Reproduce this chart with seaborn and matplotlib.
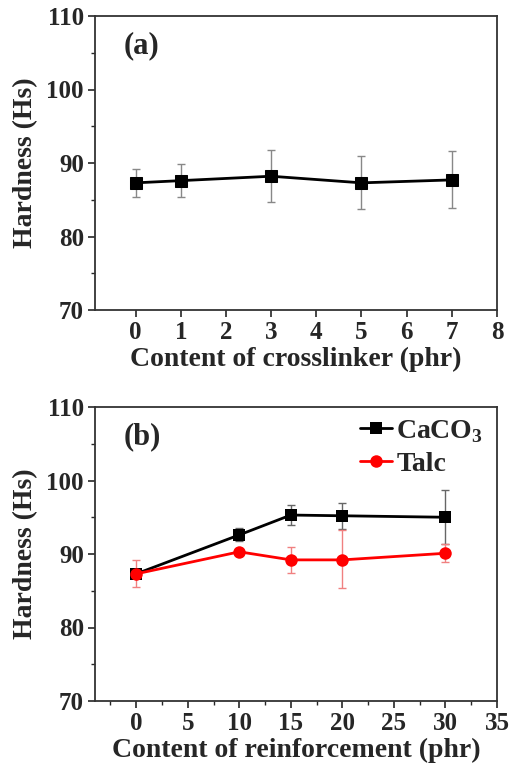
import numpy as np
import pandas as pd
import matplotlib
matplotlib.use("Agg")
import matplotlib.pyplot as plt
from matplotlib.ticker import MultipleLocator
import seaborn as sns

# Panel (a): crosslinker content
crosslinker = [0, 1, 3, 5, 7]
hard_a = [87.3, 87.6, 88.2, 87.3, 87.7]
err_a_low = [85.4, 85.4, 84.7, 83.8, 83.9]
err_a_high = [89.2, 89.8, 91.8, 90.9, 91.6]

# Panel (b): reinforcement content
reinforcement = [0, 10, 15, 20, 30]
hard_caco3 = [87.3, 92.6, 95.3, 95.2, 95.0]
caco3_low = [87.3, 91.8, 94.0, 93.4, 91.4]
caco3_high = [87.3, 93.6, 96.6, 97.0, 98.7]
hard_talc = [87.3, 90.3, 89.2, 89.2, 90.1]
talc_low = [85.5, 90.3, 87.4, 85.4, 88.9]
talc_high = [89.2, 90.3, 91.0, 93.3, 91.4]

sns.set_style("ticks")
plt.rcParams['font.family'] = ['Liberation Serif', 'DejaVu Serif']
plt.rcParams['font.weight'] = 'bold'
plt.rcParams['mathtext.fontset'] = 'custom'
plt.rcParams['mathtext.rm'] = 'Liberation Serif:bold'
plt.rcParams['mathtext.bf'] = 'Liberation Serif:bold'

fig = plt.figure(figsize=(5.11, 7.73), dpi=100)
ax1 = fig.add_axes([95 / 511, 1 - 310 / 773, 402 / 511, 294 / 773])
ax2 = fig.add_axes([95 / 511, 1 - 701 / 773, 402 / 511, 294 / 773])


def add_err(ax, x, y, lo, hi, color):
    y = np.array(y)
    yerr = [y - np.array(lo), np.array(hi) - y]
    ax.errorbar(x, y, yerr=yerr, fmt='none', ecolor=color, elinewidth=1.0,
                capsize=3, capthick=1.0, zorder=1)


# panel (a)
df_a = pd.DataFrame({'x': crosslinker, 'y': hard_a})
add_err(ax1, crosslinker, hard_a, err_a_low, err_a_high, '#888888')
sns.lineplot(data=df_a, x='x', y='y', ax=ax1, color='black', marker='s',
             markersize=9, linewidth=2, markeredgecolor='black', zorder=3)

# panel (b)
df_b = pd.DataFrame({
    'x': reinforcement * 2,
    'y': hard_caco3 + hard_talc,
    'filler': ['CaCO$_3$'] * 5 + ['Talc'] * 5,
})
add_err(ax2, reinforcement, hard_caco3, caco3_low, caco3_high, '#666666')
add_err(ax2, reinforcement, hard_talc, talc_low, talc_high, '#f08080')
sns.lineplot(data=df_b, x='x', y='y', hue='filler', style='filler',
             markers={'CaCO$_3$': 's', 'Talc': 'o'}, dashes=False,
             palette={'CaCO$_3$': 'black', 'Talc': 'red'},
             markersize=9, linewidth=2, markeredgewidth=0, ax=ax2, zorder=3)

leg = ax2.legend(loc='upper right', bbox_to_anchor=(1.0, 1.01), frameon=False,
                 fontsize=20, handlelength=1.15, handletextpad=0.15,
                 borderaxespad=0.1, labelspacing=0.25)

for ax, xlim, xmaj, label, tag in [
        (ax1, (-0.9, 8), 1, 'Content of crosslinker (phr)', '(a)'),
        (ax2, (-4, 35), 5, 'Content of reinforcement (phr)', '(b)')]:
    ax.set_xlim(*xlim)
    ax.set_ylim(70, 110)
    ax.xaxis.set_major_locator(MultipleLocator(xmaj))
    if ax is ax2:
        ax.xaxis.set_minor_locator(MultipleLocator(2.5))
    ax.yaxis.set_major_locator(MultipleLocator(10))
    ax.yaxis.set_minor_locator(MultipleLocator(5))
    ax.tick_params(axis='both', which='major', labelsize=18, direction='out',
                   length=5, width=1.2, pad=3)
    ax.tick_params(axis='both', which='minor', direction='out', length=3, width=1)
    for lab in ax.get_xticklabels() + ax.get_yticklabels():
        lab.set_fontweight('bold')
    ax.set_xlabel(label, fontsize=20, fontweight='bold', labelpad=2)
    ax.set_ylabel('Hardness (Hs)', fontsize=20, fontweight='bold', labelpad=6)
    for s in ax.spines.values():
        s.set_visible(True)
        s.set_linewidth(1.3)
        s.set_color('#333333')
    ax.text(0.07, 0.9, tag, transform=ax.transAxes, fontsize=22,
            fontweight='bold', va='center', ha='left')

fig.savefig('out.png', dpi=100)
